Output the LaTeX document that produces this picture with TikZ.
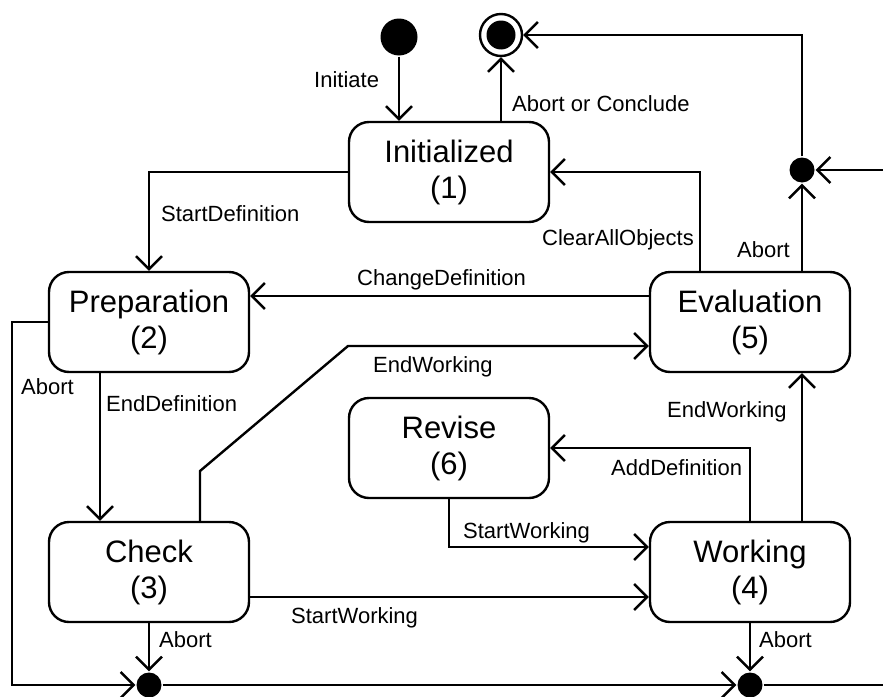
\documentclass[tikz,border=0pt]{standalone}
\usepackage{fontspec}
\setmainfont{Liberation Sans}
\usetikzlibrary{arrows.meta}
\begin{document}
\begin{tikzpicture}[x=1pt,y=-1pt,
  line width=2.4pt,
  state/.style={draw, rounded corners=20pt, minimum width=200pt, minimum height=100pt,
    align=center, inner sep=0pt, font=\fontsize{31}{36}\selectfont},
  dot/.style={circle, fill, inner sep=0pt, minimum size=#1},
  arr/.style={-{Straight Barb[length=13pt, width=26pt, line width=2.4pt]}},
  lbl/.style={anchor=west, inner sep=0pt, font=\fontsize{22}{26}\selectfont}]
\useasboundingbox (0,0) rectangle (883,696);
\clip (0,0) rectangle (883,696);

% states
\node[state] (init)  at (449,172) {Initialized\\(1)};
\node[state] (prep)  at (149,322) {Preparation\\(2)};
\node[state] (eval)  at (750,322) {Evaluation\\(5)};
\node[state] (rev)   at (449,448) {Revise\\(6)};
\node[state] (check) at (149,572) {Check\\(3)};
\node[state] (work)  at (750,572) {Working\\(4)};

% pseudo states
\node[dot=37pt] (start) at (399,37) {};
\node[circle, draw, minimum size=42pt, inner sep=0pt] (final) at (501,35) {};
\fill (final.center) circle (14.5pt);
\node[dot=25pt] (jtop) at (802,170) {};
\node[dot=25pt] (jb1)  at (149,685) {};
\node[dot=25pt] (jb2)  at (750,685) {};
\coordinate (rin)  at (883,170);
\coordinate (lcor) at (12,685);
\coordinate (rout) at (883,685);
\coordinate (ew1)  at (200,471);
\coordinate (ew2)  at (348,346);

% transitions
\draw[arr] (start.south) -- (start.south |- init.north);
\draw[arr] (init.north -| final) -- (final.south);
\draw[arr] (jtop.north) |- (final.east);
\draw[arr] (rin) -- (jtop.east);
\draw[arr] (eval.north -| jtop) -- (jtop.south);
\draw[arr] ([xshift=-50pt]eval.north) |- (init.east);
\draw[arr] (init.west) -| (prep.north);
\draw[arr] ([yshift=26pt]eval.west) -- ([yshift=26pt]prep.east);
\draw[arr] (prep.west) -| (lcor) -- (jb1.west);
\draw[arr] ([xshift=-49pt]prep.south) -- ([xshift=-49pt]check.north);
\draw[arr] ([xshift=51pt]check.north) -- (ew1) -- (ew2) -- (ew2 -| eval.west);
\draw[arr] (work.north) |- (rev.east);
\draw[arr] (rev.south) |- ([yshift=25pt]work.west);
\draw[arr] ([yshift=-25pt]check.east) -- ([yshift=-25pt]work.west);
\draw[arr] ([xshift=52pt]work.north) -- ([xshift=52pt]eval.south);
\draw[arr] (check.south) -- (jb1.north);
\draw[arr] (work.south) -- (jb2.north);
\draw[arr] (jb1.east) -- (jb2.west);
\draw (jb2.east) -- (rout);

% transition labels
\node[lbl] at (313,80)  {Initiate};
\node[lbl] at (511,104) {Abort or Conclude};
\node[lbl] at (160,214) {StartDefinition};
\node[lbl] at (541,240) {ClearAllObjects};
\node[lbl] at (736,250) {Abort};
\node[lbl] at (356,280) {ChangeDefinition};
\node[lbl] at (20,387)  {Abort};
\node[lbl] at (105,404) {EndDefinition};
\node[lbl] at (372,367) {EndWorking};
\node[lbl] at (666,412) {EndWorking};
\node[lbl] at (610,468) {AddDefinition};
\node[lbl] at (462,533) {StartWorking};
\node[lbl] at (290,618) {StartWorking};
\node[lbl] at (158,640) {Abort};
\node[lbl] at (758,640) {Abort};
\end{tikzpicture}
\end{document}
